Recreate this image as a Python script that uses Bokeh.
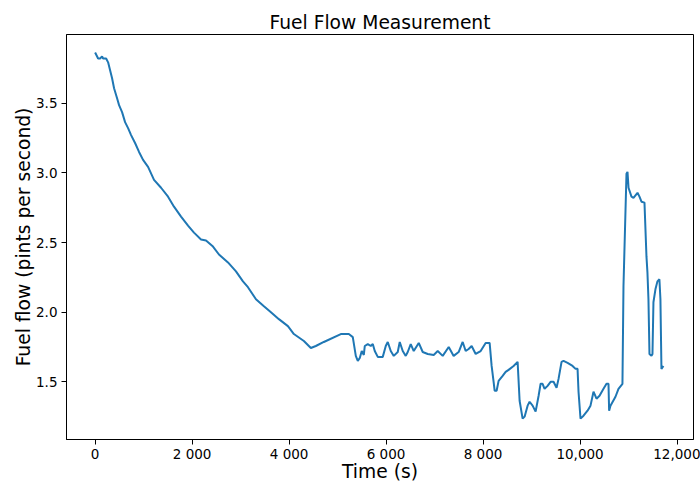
from bokeh.plotting import figure
from bokeh.models import Range1d, FixedTicker
from bokeh.embed import file_html
from bokeh.resources import INLINE

time_s = [0, 62, 103, 144, 165, 227, 268, 309, 350, 391, 453, 494, 556, 618, 680, 742, 824, 906, 989, 1092,
          1215, 1360, 1504, 1627, 1772, 1916, 2039, 2184, 2287, 2431, 2554, 2740, 2905, 3049, 3152, 3317, 3481,
          3626, 3790, 3976, 4099, 4305, 4449, 4552, 4717, 5067, 5232, 5314, 5376, 5417, 5458, 5499, 5541, 5561,
          5623, 5685, 5726, 5767, 5829, 5932, 5994, 6035, 6097, 6159, 6241, 6282, 6344, 6406, 6447, 6509, 6571,
          6674, 6756, 6859, 6983, 7065, 7168, 7292, 7394, 7497, 7580, 7642, 7703, 7765, 7848, 7951, 8054, 8136,
          8177, 8218, 8239, 8280, 8321, 8404, 8466, 8527, 8630, 8713, 8754, 8816, 8857, 8919, 8960, 9022, 9084,
          9146, 9187, 9228, 9269, 9331, 9393, 9454, 9516, 9557, 9619, 9660, 9743, 9846, 9908, 9949, 9969, 10010,
          10072, 10155, 10216, 10278, 10340, 10402, 10484, 10546, 10587, 10600, 10628, 10731, 10793, 10875, 10896,
          10958, 10979, 11000, 11061, 11102, 11185, 11226, 11267, 11329, 11370, 11390, 11411, 11432, 11473, 11494,
          11514, 11555, 11596, 11637, 11658, 11679, 11720]
fuel_flow = [3.864, 3.821, 3.821, 3.836, 3.821, 3.821, 3.793, 3.736, 3.679, 3.607, 3.536, 3.486, 3.436, 3.364,
             3.321, 3.271, 3.214, 3.150, 3.093, 3.043, 2.950, 2.893, 2.829, 2.757, 2.686, 2.621, 2.571, 2.521,
             2.514, 2.471, 2.414, 2.357, 2.293, 2.221, 2.179, 2.093, 2.043, 2.000, 1.950, 1.900, 1.843, 1.793,
             1.743, 1.757, 1.786, 1.843, 1.843, 1.821, 1.686, 1.650, 1.671, 1.721, 1.693, 1.757, 1.771, 1.757,
             1.771, 1.721, 1.679, 1.679, 1.757, 1.786, 1.721, 1.686, 1.714, 1.786, 1.721, 1.686, 1.714, 1.771,
             1.721, 1.779, 1.714, 1.700, 1.693, 1.721, 1.686, 1.750, 1.686, 1.714, 1.786, 1.721, 1.736, 1.757,
             1.700, 1.721, 1.779, 1.779, 1.614, 1.500, 1.436, 1.436, 1.507, 1.543, 1.571, 1.586, 1.614, 1.643,
             1.364, 1.236, 1.250, 1.329, 1.357, 1.329, 1.286, 1.400, 1.486, 1.486, 1.450, 1.471, 1.500, 1.500,
             1.457, 1.521, 1.643, 1.650, 1.636, 1.614, 1.593, 1.593, 1.429, 1.236, 1.257, 1.293, 1.329, 1.429,
             1.379, 1.400, 1.450, 1.486, 1.486, 1.293, 1.329, 1.393, 1.450, 1.486, 2.186, 2.993, 3.007, 2.893,
             2.829, 2.821, 2.857, 2.829, 2.793, 2.786, 2.400, 2.286, 2.093, 1.700, 1.686, 1.700, 2.071, 2.164,
             2.221, 2.236, 2.093, 1.593, 1.614]

x_ticks = [0, 2000, 4000, 6000, 8000, 10000, 12000]
x_tick_labels = ["0", "2 000", "4 000", "6 000", "8 000", "10,000", "12,000"]
y_ticks = [1.5, 2.0, 2.5, 3.0, 3.5]
y_tick_labels = ["1.5", "2.0", "2.5", "3.0", "3.5"]

FONT = "DejaVu Sans"

p = figure(width=700, height=484, output_backend="svg", toolbar_location=None,
           title="Fuel Flow Measurement",
           x_range=Range1d(-590, 12340), y_range=Range1d(1.086, 3.993),
           min_border_left=66, min_border_right=7, min_border_top=34, min_border_bottom=43)

p.line(time_s, fuel_flow, line_color="#1f77b4", line_width=2)

p.title.align = "center"
p.title.text_font = FONT
p.title.text_font_size = "18.7px"
p.title.text_font_style = "normal"
p.title.text_color = "black"
p.title.standoff = 4

p.grid.visible = False
p.outline_line_color = "black"
p.outline_line_alpha = 1
p.outline_line_width = 1
p.background_fill_color = "white"
p.border_fill_color = "white"

p.xaxis.ticker = FixedTicker(ticks=x_ticks)
p.xaxis.major_label_overrides = dict(zip(x_ticks, x_tick_labels))
p.yaxis.ticker = FixedTicker(ticks=y_ticks)
p.yaxis.major_label_overrides = dict(zip(y_ticks, y_tick_labels))

p.xaxis.axis_label = "Time (s)"
p.yaxis.axis_label = "Fuel flow (pints per second)"

for ax in (p.xaxis, p.yaxis):
    ax.axis_line_color = "black"
    ax.major_tick_line_color = "black"
    ax.major_tick_out = 5
    ax.major_tick_in = 0
    ax.minor_tick_out = 0
    ax.minor_tick_in = 0
    ax.major_label_text_font = FONT
    ax.major_label_text_font_size = "13.5px"
    ax.major_label_text_color = "black"
    ax.axis_label_text_font = FONT
    ax.axis_label_text_font_size = "18.7px"
    ax.axis_label_text_font_style = "normal"
    ax.axis_label_text_color = "black"

p.xaxis.major_label_standoff = 1
p.xaxis.axis_label_standoff = -4
p.yaxis.major_label_standoff = 4
p.yaxis.axis_label_standoff = -1

open("out.html", "w").write(file_html(p, INLINE))
